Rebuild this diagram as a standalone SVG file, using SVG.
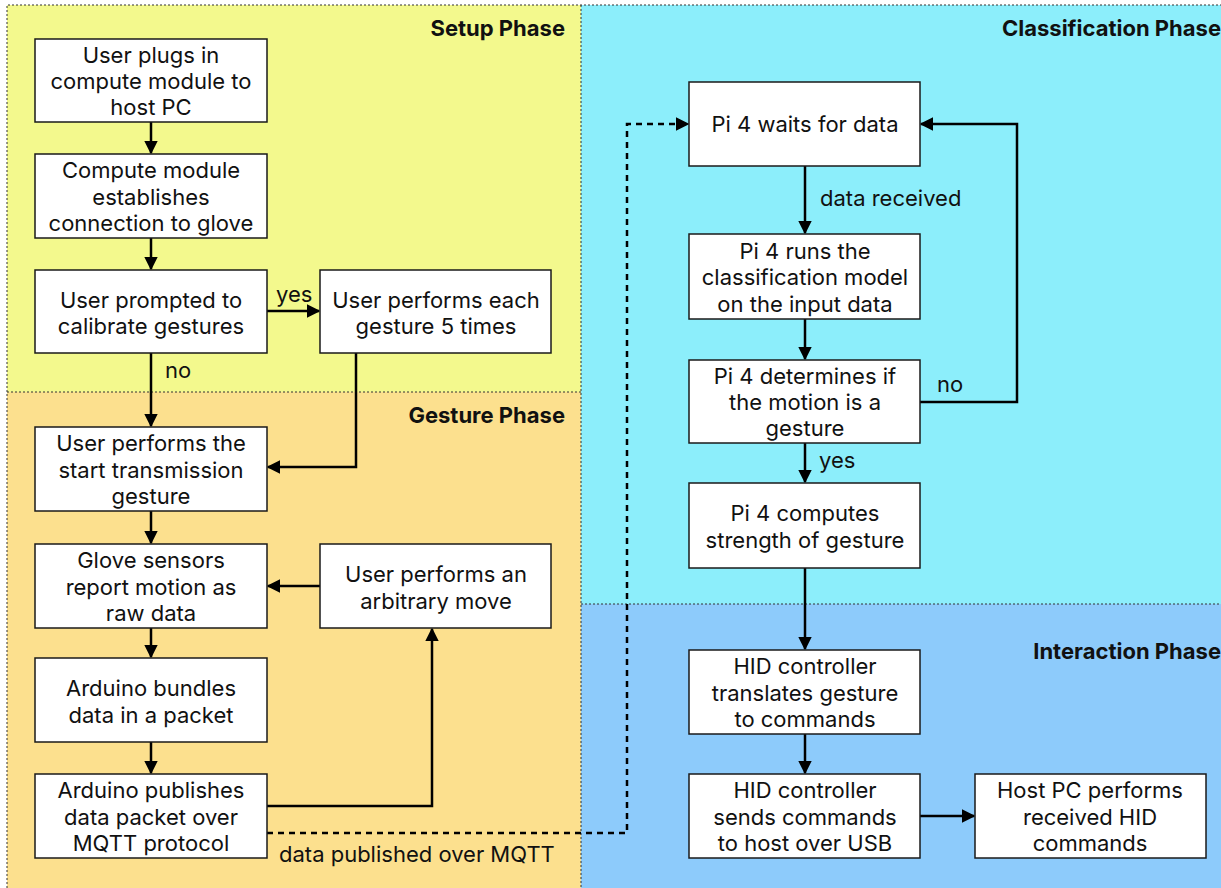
<svg xmlns="http://www.w3.org/2000/svg" width="1221" height="888" viewBox="0 0 1221 888">
  <style>
    .lane-border { fill: none; stroke: #333; stroke-width: 1; stroke-dasharray: 2 2; }
    .box rect { fill: #ffffff; stroke: #1a1a1a; stroke-width: 1.5; }
    .box text, .lbl { font-family: Inter, "Noto Sans", "Liberation Sans", sans-serif; font-size: 22px; fill: #111; text-anchor: middle; }
    .lbl { text-anchor: start; }
    .phase { font-family: Inter, "Noto Sans", "Liberation Sans", sans-serif; font-size: 22px; font-weight: bold; fill: #111; text-anchor: end; }
    .edge { fill: none; stroke: #000; stroke-width: 2.5; }
    .dash { stroke-dasharray: 6 5; }
  </style>
  <defs>
    <marker id="arrow" viewBox="0 0 10 10" refX="9" refY="5" markerWidth="5.5" markerHeight="5.5" orient="auto" markerUnits="strokeWidth">
      <path d="M0,0 L10,5 L0,10 z" fill="#000"/>
    </marker>
  </defs>

  <!-- phase lanes -->
  <g id="lanes">
    <rect x="0" y="0" width="1221" height="888" fill="#ffffff"/>
    <rect x="7" y="5" width="574" height="387" fill="#F3F98D"/>
    <rect x="7" y="392" width="574" height="496" fill="#FCE08E"/>
    <rect x="581" y="5" width="640" height="599" fill="#8CEEFB"/>
    <rect x="581" y="604" width="640" height="284" fill="#8DCBFB"/>
    <path class="lane-border" d="M7,888 V5 H1221"/>
    <path class="lane-border" d="M581,5 V888"/>
    <path class="lane-border" d="M7,392 H581"/>
    <path class="lane-border" d="M581,604 H1221"/>
    <text class="phase" x="565" y="36">Setup Phase</text>
    <text class="phase" x="565" y="423">Gesture Phase</text>
    <text class="phase" x="1221" y="36">Classification Phase</text>
    <text class="phase" x="1221" y="659">Interaction Phase</text>
  </g>

  <!-- connectors -->
  <g id="connectors">
    <path class="edge" marker-end="url(#arrow)" d="M151,122 V153"/>
    <path class="edge" marker-end="url(#arrow)" d="M151,238 V269"/>
    <path class="edge" marker-end="url(#arrow)" d="M267,311 H319"/>
    <path class="edge" marker-end="url(#arrow)" d="M151,353 V426"/>
    <path class="edge" marker-end="url(#arrow)" d="M356,353 V467 H268"/>
    <path class="edge" marker-end="url(#arrow)" d="M151,511 V543"/>
    <path class="edge" marker-end="url(#arrow)" d="M320,586 H268"/>
    <path class="edge" marker-end="url(#arrow)" d="M151,628 V657"/>
    <path class="edge" marker-end="url(#arrow)" d="M151,742 V773"/>
    <path class="edge" marker-end="url(#arrow)" d="M267,806 H432 V629"/>
    <path class="edge dash" marker-end="url(#arrow)" d="M267,833 H627 V124 H688"/>
    <path class="edge" marker-end="url(#arrow)" d="M805,166 V233"/>
    <path class="edge" marker-end="url(#arrow)" d="M805,319 V359"/>
    <path class="edge" marker-end="url(#arrow)" d="M920,402 H1017 V124 H921"/>
    <path class="edge" marker-end="url(#arrow)" d="M805,443 V482"/>
    <path class="edge" marker-end="url(#arrow)" d="M805,568 V649"/>
    <path class="edge" marker-end="url(#arrow)" d="M805,734 V773"/>
    <path class="edge" marker-end="url(#arrow)" d="M920,816 H974"/>
    <text class="lbl" x="276" y="302">yes</text>
    <text class="lbl" x="165" y="378">no</text>
    <text class="lbl" x="279" y="862">data published over MQTT</text>
    <text class="lbl" x="820" y="206">data received</text>
    <text class="lbl" x="937" y="392">no</text>
    <text class="lbl" x="819" y="468">yes</text>
  </g>

  <!-- nodes -->
  <g id="plug-in" class="box">
    <rect x="35" y="39" width="232" height="83"/>
    <text x="151" y="63">User plugs in</text>
    <text x="151" y="89">compute module to</text>
    <text x="151" y="115">host PC</text>
  </g>
  <g id="connect-glove" class="box">
    <rect x="35" y="154" width="232" height="84"/>
    <text x="151" y="178">Compute module</text>
    <text x="151" y="205">establishes</text>
    <text x="151" y="231">connection to glove</text>
  </g>
  <g id="calibrate-prompt" class="box">
    <rect x="35" y="270" width="232" height="83"/>
    <text x="151" y="308">User prompted to</text>
    <text x="151" y="334">calibrate gestures</text>
  </g>
  <g id="calibrate-repeat" class="box">
    <rect x="320" y="270" width="231" height="83"/>
    <text x="436" y="308">User performs each</text>
    <text x="436" y="334">gesture 5 times</text>
  </g>
  <g id="start-gesture" class="box">
    <rect x="35" y="427" width="232" height="84"/>
    <text x="151" y="451">User performs the</text>
    <text x="151" y="478">start transmission</text>
    <text x="151" y="504">gesture</text>
  </g>
  <g id="sensors" class="box">
    <rect x="35" y="544" width="232" height="84"/>
    <text x="151" y="568">Glove sensors</text>
    <text x="151" y="595">report motion as</text>
    <text x="151" y="621">raw data</text>
  </g>
  <g id="arbitrary-move" class="box">
    <rect x="320" y="544" width="231" height="84"/>
    <text x="436" y="582">User performs an</text>
    <text x="436" y="609">arbitrary move</text>
  </g>
  <g id="bundle" class="box">
    <rect x="35" y="658" width="232" height="84"/>
    <text x="151" y="696">Arduino bundles</text>
    <text x="151" y="723">data in a packet</text>
  </g>
  <g id="publish" class="box">
    <rect x="35" y="774" width="232" height="84"/>
    <text x="151" y="798">Arduino publishes</text>
    <text x="151" y="825">data packet over</text>
    <text x="151" y="851">MQTT protocol</text>
  </g>
  <g id="wait-data" class="box">
    <rect x="689" y="82" width="231" height="84"/>
    <text x="805" y="132">Pi 4 waits for data</text>
  </g>
  <g id="run-model" class="box">
    <rect x="689" y="234" width="231" height="85"/>
    <text x="805" y="259">Pi 4 runs the</text>
    <text x="805" y="285">classification model</text>
    <text x="805" y="312">on the input data</text>
  </g>
  <g id="is-gesture" class="box">
    <rect x="689" y="360" width="231" height="83"/>
    <text x="805" y="384">Pi 4 determines if</text>
    <text x="805" y="410">the motion is a</text>
    <text x="805" y="436">gesture</text>
  </g>
  <g id="strength" class="box">
    <rect x="689" y="483" width="231" height="85"/>
    <text x="805" y="521">Pi 4 computes</text>
    <text x="805" y="548">strength of gesture</text>
  </g>
  <g id="translate" class="box">
    <rect x="689" y="650" width="231" height="84"/>
    <text x="805" y="674">HID controller</text>
    <text x="805" y="701">translates gesture</text>
    <text x="805" y="727">to commands</text>
  </g>
  <g id="send-usb" class="box">
    <rect x="689" y="774" width="231" height="84"/>
    <text x="805" y="798">HID controller</text>
    <text x="805" y="825">sends commands</text>
    <text x="805" y="851">to host over USB</text>
  </g>
  <g id="host-exec" class="box">
    <rect x="975" y="774" width="231" height="84"/>
    <text x="1090" y="798">Host PC performs</text>
    <text x="1090" y="825">received HID</text>
    <text x="1090" y="851">commands</text>
  </g>
</svg>
